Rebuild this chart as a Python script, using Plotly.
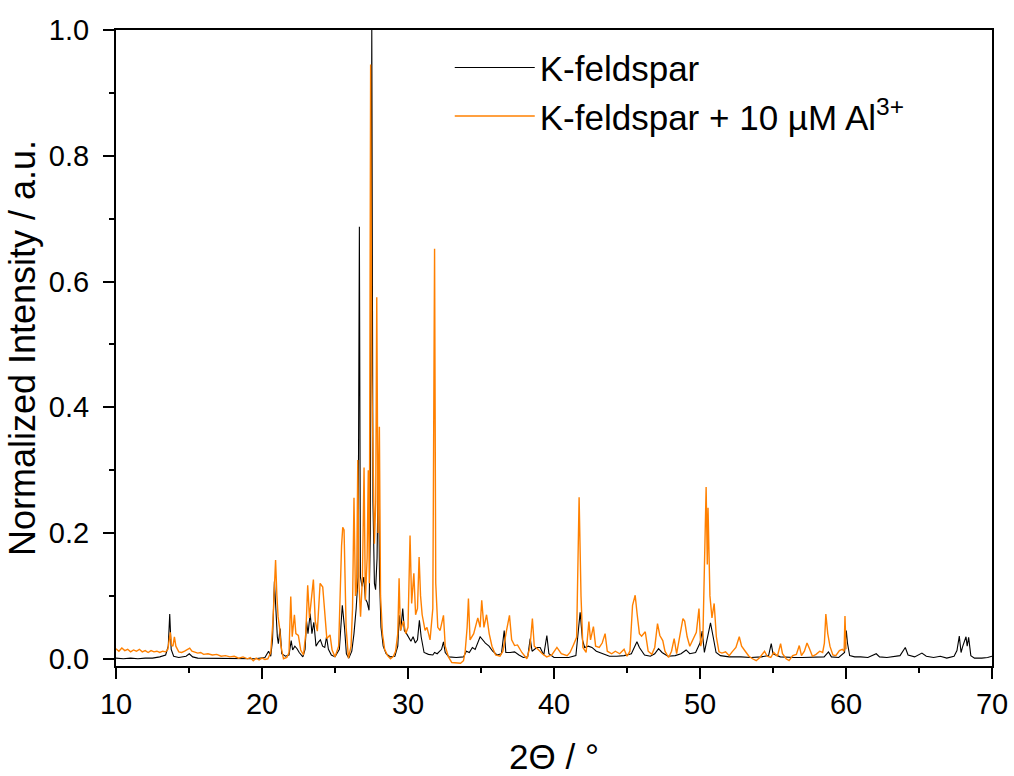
import plotly.graph_objects as go

# ---- data ----
kf_x = [10.0, 10.5, 11.0, 11.5, 12.0, 12.5, 13.0, 13.4, 13.58, 13.68, 13.78, 13.95, 14.3, 14.8, 15.02, 15.25,
        15.6, 16.5, 17.5, 18.5, 19.5, 20.2, 20.45, 20.6, 20.72, 20.85, 20.93, 21.05, 21.12, 21.24, 21.35,
        21.6, 21.85, 22.0, 22.1, 22.25, 22.4, 22.55, 22.8, 22.95, 23.05, 23.15, 23.3, 23.42, 23.55, 23.7,
        23.85, 24.0, 24.15, 24.3, 24.42, 24.55, 24.75, 25.0, 25.3, 25.5, 25.65, 25.78, 25.95, 26.15, 26.3,
        26.45, 26.58, 26.67, 26.74, 26.85, 26.97, 27.08, 27.2, 27.33, 27.42, 27.52, 27.6, 27.7, 27.78,
        27.88, 27.97, 28.05, 28.15, 28.3, 28.5, 28.8, 29.1, 29.3, 29.4, 29.5, 29.64, 29.75, 29.9, 30.05,
        30.2, 30.35, 30.5, 30.65, 30.78, 30.9, 31.1, 31.4, 31.7, 31.82, 32.0, 32.3, 32.43, 32.55, 32.8,
        33.3, 33.8, 34.0, 34.2, 34.41, 34.6, 34.94, 35.1, 35.3, 35.55, 35.8, 36.1, 36.4, 36.59, 36.7,
        37.0, 37.3, 37.6, 37.9, 38.2, 38.37, 38.5, 38.82, 39.05, 39.3, 39.51, 39.65, 40.0, 40.5, 41.0,
        41.5, 41.79, 41.95, 42.1, 42.35, 42.6, 42.9, 43.3, 43.8, 44.3, 44.8, 45.3, 45.68, 45.85, 46.2,
        46.6, 46.9, 47.16, 47.4, 47.8, 48.3, 48.7, 49.05, 49.3, 49.7, 50.0, 50.15, 50.3, 50.5, 50.72,
        50.9, 51.1, 51.4, 52.0, 52.8, 53.5, 54.2, 54.7, 54.88, 55.0, 55.5, 56.0, 56.5, 57.0, 57.5, 58.0,
        58.5, 58.8, 59.0, 59.5, 59.9, 60.02, 60.1, 60.25, 60.6, 61.0, 61.5, 62.07, 62.3, 62.8, 63.3,
        63.7, 64.06, 64.25, 64.7, 65.2, 65.5, 66.0, 66.46, 66.9, 67.4, 67.6, 67.76, 67.88, 68.0, 68.22,
        68.3, 68.4, 68.55, 68.8, 69.3, 69.7, 70.0]
kf_y = [0.001, 0.000, 0.001, 0.000, 0.001, 0.001, 0.003, 0.006, 0.02, 0.071, 0.015, 0.004, 0.002, 0.004, 0.008, 0.003,
        0.001, 0.001, 0.000, 0.000, 0.000, 0.002, 0.012, 0.004, 0.03, 0.123, 0.08, 0.035, 0.024, 0.048, 0.008,
        0.004, 0.006, 0.029, 0.014, 0.02, 0.016, 0.01, 0.003, 0.015, 0.06, 0.04, 0.072, 0.04, 0.058, 0.02,
        0.026, 0.03, 0.02, 0.018, 0.035, 0.015, 0.006, 0.003, 0.015, 0.085, 0.05, 0.008, 0.001, 0.012, 0.04,
        0.08, 0.13, 0.687, 0.13, 0.115, 0.13, 0.095, 0.09, 0.077, 0.2, 1.0, 0.25, 0.12, 0.11,
        0.16, 0.316, 0.13, 0.05, 0.02, 0.008, 0.003, 0.004, 0.02, 0.069, 0.045, 0.08, 0.045, 0.04, 0.035,
        0.028, 0.035, 0.025, 0.03, 0.061, 0.035, 0.01, 0.007, 0.006, 0.01, 0.008, 0.015, 0.027, 0.01, 0.003,
        0.002, 0.003, 0.012, 0.01, 0.018, 0.015, 0.035, 0.03, 0.025, 0.02, 0.012, 0.006, 0.008, 0.045, 0.01,
        0.01, 0.011, 0.006, 0.002, 0.003, 0.032, 0.012, 0.018, 0.018, 0.006, 0.037, 0.008, 0.002, 0.002, 0.002,
        0.005, 0.074, 0.03, 0.018, 0.02, 0.018, 0.012, 0.008, 0.004, 0.004, 0.005, 0.008, 0.027, 0.018, 0.006,
        0.004, 0.008, 0.016, 0.01, 0.004, 0.005, 0.008, 0.014, 0.008, 0.01, 0.025, 0.044, 0.01, 0.03, 0.057,
        0.035, 0.01, 0.005, 0.003, 0.003, 0.002, 0.003, 0.005, 0.024, 0.008, 0.003, 0.002, 0.002, 0.002, 0.002, 0.003,
        0.003, 0.011, 0.003, 0.002, 0.01, 0.045, 0.025, 0.005, 0.003, 0.003, 0.002, 0.008, 0.003, 0.002, 0.003,
        0.005, 0.018, 0.006, 0.003, 0.009, 0.004, 0.002, 0.004, 0.001, 0.004, 0.013, 0.036, 0.01, 0.02, 0.035,
        0.02, 0.034, 0.005, 0.001, 0.001, 0.002, 0.004]

al_x = [10.0, 10.2, 10.4, 10.6, 10.8, 11.0, 11.2, 11.4, 11.6, 11.8, 12.0, 12.2, 12.4, 12.6, 12.8, 13.0, 13.2, 13.4,
        13.55, 13.65, 13.72, 13.8, 13.9, 14.0, 14.1, 14.3, 14.5, 14.7, 14.9, 15.05, 15.2, 15.4, 15.6, 15.8,
        16.0, 16.3, 16.6, 16.9, 17.2, 17.5, 17.8, 18.1, 18.4, 18.7, 19.0, 19.2, 19.4, 19.6, 19.8, 20.0, 20.2,
        20.4, 20.6, 20.75, 20.93, 21.02, 21.1, 21.2, 21.3, 21.47, 21.7, 21.85, 21.97, 22.07, 22.22, 22.32,
        22.49, 22.65, 22.84, 23.0, 23.13, 23.25, 23.52, 23.65, 23.79, 23.98, 24.16, 24.25, 24.44, 24.66,
        24.8, 25.0, 25.25, 25.45, 25.53, 25.62, 25.76, 25.92, 26.1, 26.2, 26.3, 26.4, 26.48, 26.56, 26.64,
        26.75, 26.88, 26.99, 27.08, 27.2, 27.28, 27.35, 27.44, 27.52, 27.6, 27.7, 27.79, 27.86, 27.95,
        28.04, 28.12, 28.25, 28.4, 28.6, 28.8, 29.0, 29.15, 29.3, 29.39, 29.48, 29.69, 29.85, 30.0, 30.14,
        30.25, 30.4, 30.52, 30.65, 30.76, 30.86, 30.97, 31.17, 31.3, 31.51, 31.7, 31.82, 31.9, 32.04, 32.2,
        32.43, 32.55, 32.77, 33.0, 33.3, 33.6, 33.8, 33.91, 34.05, 34.14, 34.25, 34.5, 34.78, 34.94, 35.05,
        35.2, 35.38, 35.56, 35.75, 36.0, 36.3, 36.5, 36.75, 36.95, 37.1, 37.3, 37.5, 37.8, 38.14, 38.35,
        38.52, 38.65, 38.9, 39.2, 39.5, 39.85, 40.2, 40.5, 40.9, 41.1, 41.33, 41.55, 41.72, 41.85, 41.98,
        42.2, 42.39, 42.5, 42.7, 42.85, 43.1, 43.3, 43.5, 43.65, 43.95, 44.2, 44.5, 44.8, 45.0, 45.2, 45.38,
        45.56, 45.7, 45.85, 46.0, 46.25, 46.45, 46.7, 46.9, 47.09, 47.25, 47.45, 47.6, 47.85, 48.05, 48.23,
        48.4, 48.64, 48.83, 48.95, 49.12, 49.3, 49.5, 49.75, 49.93, 50.05, 50.2, 50.3, 50.42, 50.5, 50.55,
        50.68, 50.82, 50.97, 51.12, 51.3, 51.5, 51.75, 52.0, 52.2, 52.46, 52.69, 52.85, 53.1, 53.35, 53.6,
        53.85, 54.1, 54.42, 54.6, 54.85, 55.05, 55.3, 55.52, 55.65, 55.9, 56.1, 56.35, 56.6, 56.8, 56.95,
        57.15, 57.33, 57.5, 57.7, 57.95, 58.2, 58.4, 58.52, 58.62, 58.75, 58.9, 59.1, 59.3, 59.55, 59.75,
        59.87, 59.93, 60.0]
al_y = [0.016, 0.012, 0.017, 0.013, 0.015, 0.011, 0.014, 0.012, 0.015, 0.011, 0.013, 0.010, 0.013, 0.011, 0.012, 0.010, 0.012, 0.011,
        0.015, 0.03, 0.042, 0.022, 0.02, 0.035, 0.02, 0.011, 0.01, 0.012, 0.015, 0.017, 0.012, 0.01, 0.009, 0.01,
        0.007, 0.008, 0.006, 0.007, 0.004, 0.005, 0.003, 0.004, 0.001, 0.003, 0.0, 0.002, -0.003, 0.001, -0.002, 0.001, -0.001,
        0.0, 0.01, 0.06, 0.157, 0.1, 0.067, 0.05, 0.02, 0.0, 0.002, 0.01, 0.099, 0.035, 0.07, 0.04,
        0.037, 0.014, 0.006, 0.04, 0.117, 0.065, 0.126, 0.06, 0.044, 0.12, 0.114, 0.088, 0.032, 0.038,
        0.014, 0.003, 0.02, 0.18, 0.209, 0.205, 0.05, 0.001, 0.02, 0.08, 0.256, 0.1, 0.11, 0.316, 0.12,
        0.067, 0.13, 0.304, 0.093, 0.16, 0.3, 0.12, 0.945, 0.45, 0.3, 0.183, 0.25, 0.575, 0.2,
        0.369, 0.1, 0.04, 0.015, 0.005, 0.0, 0.004, 0.012, 0.04, 0.128, 0.045, 0.06, 0.04, 0.05, 0.196,
        0.088, 0.136, 0.07, 0.08, 0.162, 0.1, 0.07, 0.045, 0.05, 0.03, 0.08, 0.652, 0.12, 0.05, 0.045,
        0.069, 0.02, 0.003, -0.006, -0.006, -0.007, -0.003, 0.01, 0.05, 0.096, 0.03, 0.04, 0.065, 0.05, 0.093,
        0.05, 0.07, 0.04, 0.02, 0.006, 0.004, 0.012, 0.045, 0.069, 0.03, 0.021, 0.022, 0.01, 0.0, 0.018,
        0.064, 0.02, 0.015, 0.008, 0.003, 0.006, 0.018, 0.008, 0.005, 0.01, 0.022, 0.034, 0.257, 0.1, 0.018,
        0.01, 0.059, 0.03, 0.051, 0.02, 0.018, 0.025, 0.04, 0.012, 0.008, 0.012, 0.008, 0.015, 0.004, 0.012, 0.085,
        0.101, 0.07, 0.04, 0.036, 0.043, 0.012, 0.007, 0.018, 0.056, 0.037, 0.029, 0.012, 0.002, 0.012, 0.032,
        0.008, 0.04, 0.064, 0.06, 0.035, 0.02, 0.03, 0.042, 0.08, 0.02, 0.035, 0.13, 0.273, 0.15, 0.24,
        0.1, 0.065, 0.088, 0.035, 0.011, 0.009, 0.011, 0.005, 0.011, 0.018, 0.035, 0.02, 0.012, 0.004, 0.0,
        -0.003, 0.002, 0.012, 0.004, 0.002, 0.01, 0.004, 0.024, 0.008, 0.0, -0.003, 0.005, 0.007, 0.021, 0.005,
        0.012, 0.025, 0.016, 0.004, 0.007, 0.012, 0.01, 0.025, 0.071, 0.04, 0.02, 0.006, 0.005, 0.013, 0.015,
        0.012, 0.068, 0.015]

series_names = ["K-feldspar", "K-feldspar + 10 µM Al<sup>3+</sup>"]
x_ticks = [10, 20, 30, 40, 50, 60, 70]
y_ticks = [0.0, 0.2, 0.4, 0.6, 0.8, 1.0]

FONT = "Liberation Sans, Arial, sans-serif"

fig = go.Figure()
fig.add_trace(go.Scatter(x=kf_x, y=kf_y, mode="lines", name=series_names[0],
                         line=dict(color="#000000", width=1.1)))
fig.add_trace(go.Scatter(x=al_x, y=al_y, mode="lines", name=series_names[1],
                         line=dict(color="#FF8000", width=1.4)))

axis_common = dict(
    showline=True, linecolor="black", linewidth=2, mirror=True,
    ticks="outside", ticklen=11, tickwidth=2, tickcolor="black",
    showgrid=False, zeroline=False, automargin=False,
    tickfont=dict(family=FONT, size=29, color="black"),
)

fig.update_xaxes(range=[10, 70], tickvals=x_ticks, ticktext=[str(v) for v in x_ticks],
                 minor=dict(ticks="outside", ticklen=5, tickwidth=2, tickcolor="black", dtick=5, tick0=10),
                 title=dict(text="2Θ / °", font=dict(family=FONT, size=35, color="black"), standoff=29),
                 **axis_common)
fig.update_yaxes(range=[-0.0115, 1.0], tickvals=y_ticks, ticktext=[f"{v:.1f}" for v in y_ticks],
                 ticklabelstandoff=8,
                 minor=dict(ticks="outside", ticklen=5, tickwidth=2, tickcolor="black", dtick=0.1, tick0=0),
                 title=dict(text="Normalized Intensity / a.u.", font=dict(family=FONT, size=36, color="black"), standoff=2),
                 **axis_common)

fig.update_layout(
    width=1014, height=776,
    margin=dict(l=116, r=22, t=30, b=110, autoexpand=False),
    plot_bgcolor="white", paper_bgcolor="white",
    legend=dict(x=0.381, y=0.987, xanchor="left", yanchor="top",
                font=dict(family=FONT, size=35, color="black"),
                itemwidth=80,
                bgcolor="rgba(0,0,0,0)", borderwidth=0, tracegroupgap=0),
    showlegend=True,
)

fig.write_html("out.html")
